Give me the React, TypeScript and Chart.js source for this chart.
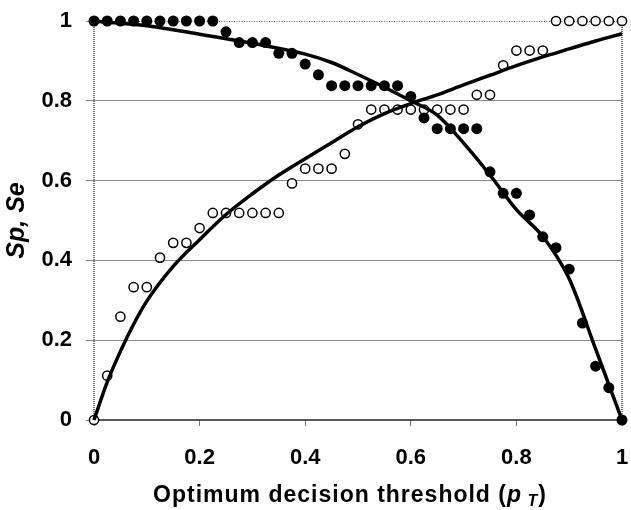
import { useEffect, useRef } from "react";
import { Chart, registerables } from "chart.js";
Chart.register(...registerables);

// Observed thresholds (x) for both point series
const pT = [0, 0.025, 0.05, 0.075, 0.1, 0.125, 0.15, 0.175, 0.2, 0.225, 0.25, 0.275, 0.3, 0.325, 0.35, 0.375, 0.4, 0.425, 0.45, 0.475, 0.5, 0.525, 0.55, 0.575, 0.6, 0.625, 0.65, 0.675, 0.7, 0.725, 0.75, 0.775, 0.8, 0.825, 0.85, 0.875, 0.9, 0.925, 0.95, 0.975, 1];

// Specificity (filled dots)
const spObserved = [1, 1, 1, 1, 1, 1, 1, 1, 1, 1, 0.973, 0.946, 0.946, 0.946, 0.919, 0.919, 0.892, 0.865, 0.838, 0.838, 0.838, 0.838, 0.838, 0.838, 0.811, 0.757, 0.73, 0.73, 0.73, 0.73, 0.622, 0.568, 0.568, 0.514, 0.459, 0.432, 0.378, 0.243, 0.135, 0.081, 0];

// Sensitivity (open circles)
const seObserved = [0, 0.111, 0.259, 0.333, 0.333, 0.407, 0.444, 0.444, 0.481, 0.519, 0.519, 0.519, 0.519, 0.519, 0.519, 0.593, 0.63, 0.63, 0.63, 0.667, 0.741, 0.778, 0.778, 0.778, 0.778, 0.778, 0.778, 0.778, 0.778, 0.815, 0.815, 0.889, 0.926, 0.926, 0.926, 1, 1, 1, 1, 1, 1];

// Fitted curves
const spCurveX = [0, 0.1, 0.2, 0.3, 0.4, 0.45, 0.5, 0.55, 0.6, 0.65, 0.7, 0.75, 0.8, 0.85, 0.9, 0.95, 1];
const spCurveY = [1, 0.988, 0.967, 0.944, 0.917, 0.896, 0.866, 0.834, 0.8, 0.764, 0.694, 0.614, 0.527, 0.46, 0.354, 0.178, 0];
const seCurveX = [0, 0.025, 0.05, 0.075, 0.1, 0.15, 0.2, 0.25, 0.3, 0.35, 0.4, 0.45, 0.5, 0.55, 0.6, 0.65, 0.7, 0.75, 0.8, 0.85, 0.9, 0.95, 1];
const seCurveY = [0, 0.095, 0.172, 0.24, 0.298, 0.385, 0.452, 0.515, 0.567, 0.614, 0.655, 0.695, 0.735, 0.768, 0.793, 0.815, 0.84, 0.864, 0.888, 0.91, 0.93, 0.95, 0.968];

const tickValues = [0, 0.2, 0.4, 0.6, 0.8, 1];
const xTickLabels = ["0", "0.2", "0.4", "0.6", "0.8", "1"];
const yTickLabels = ["0", "0.2", "0.4", "0.6", "0.8", "1"];

const FAMILY = '"Liberation Sans", Arial, Helvetica, sans-serif';

const framePlugin = {
  id: "frame",
  beforeDatasetsDraw(chart: any) {
    const { ctx, scales } = chart;
    const x = scales.x, y = scales.y;
    const x0 = x.getPixelForValue(0), x1 = x.getPixelForValue(1);
    const y0 = y.getPixelForValue(0), y1 = y.getPixelForValue(1);
    ctx.save();
    ctx.strokeStyle = "#666";
    ctx.lineWidth = 1;
    ctx.setLineDash([1, 1.5]);
    ctx.beginPath();
    ctx.moveTo(x0, y1 + 0.5);
    ctx.lineTo(x1, y1 + 0.5);
    ctx.stroke();
    ctx.strokeStyle = "#444";
    ctx.lineWidth = 1.5;
    ctx.setLineDash([1, 1]);
    ctx.beginPath();
    ctx.moveTo(x0, y1);
    ctx.lineTo(x0, y0);
    ctx.moveTo(x1, y1);
    ctx.lineTo(x1, y0);
    ctx.stroke();
    ctx.setLineDash([]);
    ctx.strokeStyle = "#222";
    ctx.lineWidth = 1.5;
    ctx.beginPath();
    ctx.moveTo(x0, y0);
    ctx.lineTo(x1, y0);
    ctx.stroke();
    ctx.restore();
  },
};

const xTitlePlugin = {
  id: "xTitle",
  afterDraw(chart: any) {
    const { ctx, chartArea } = chart;
    const parts: [string, string, number][] = [
      ["Optimum decision threshold (", `bold 23px ${FAMILY}`, 0],
      ["p", `italic bold 23px ${FAMILY}`, 0],
      [" T", `italic bold 16px ${FAMILY}`, 4],
      [")", `bold 23px ${FAMILY}`, 0],
    ];
    ctx.save();
    (ctx as any).letterSpacing = "1px";
    let total = 0;
    for (const [t, f] of parts) {
      ctx.font = f;
      total += ctx.measureText(t).width;
    }
    const cx = (chartArea.left + chartArea.right) / 2 - 8;
    let xx = cx - total / 2;
    const base = 502;
    ctx.fillStyle = "#000";
    ctx.textBaseline = "alphabetic";
    ctx.textAlign = "left";
    for (const [t, f, dy] of parts) {
      ctx.font = f;
      ctx.fillText(t, xx, base + dy);
      xx += ctx.measureText(t).width;
    }
    ctx.restore();
  },
};

export default function App() {
  const ref = useRef<HTMLCanvasElement>(null);
  useEffect(() => {
    const chart = new Chart(ref.current!, {
      type: "scatter",
      data: {
        datasets: [
          {
            type: "line",
            data: spCurveX.map((v, i) => ({ x: v, y: spCurveY[i] })),
            borderColor: "#000",
            borderWidth: 3.5,
            pointRadius: 0,
            cubicInterpolationMode: "monotone",
            fill: false,
            clip: false,
            order: 0,
          } as any,
          {
            type: "line",
            data: seCurveX.map((v, i) => ({ x: v, y: seCurveY[i] })),
            borderColor: "#000",
            borderWidth: 3.5,
            pointRadius: 0,
            cubicInterpolationMode: "monotone",
            fill: false,
            clip: false,
            order: 0,
          } as any,
          {
            data: pT.map((v, i) => ({ x: v, y: spObserved[i] })),
            pointRadius: 5.5,
            pointBackgroundColor: "#000",
            pointBorderColor: "#000",
            pointBorderWidth: 0,
            clip: false,
            order: 1,
          } as any,
          {
            data: pT.map((v, i) => ({ x: v, y: seObserved[i] })),
            pointRadius: 4.6,
            pointBackgroundColor: "#fff",
            pointBorderColor: "#000",
            pointBorderWidth: 1.5,
            clip: false,
            order: 1,
          } as any,
        ],
      },
      options: {
        responsive: false,
        animation: false,
        layout: { padding: { top: 21, right: 9, left: 0, bottom: 0 } },
        plugins: { legend: { display: false }, tooltip: { enabled: false } },
        scales: {
          x: {
            type: "linear",
            min: 0,
            max: 1,
            afterBuildTicks: (s: any) => {
              s.ticks = tickValues.map((v) => ({ value: v }));
            },
            afterFit: (s: any) => {
              s.height = 90;
              s.paddingLeft = 0;
              s.paddingRight = 0;
            },
            ticks: {
              callback: (_v: any, i: number) => xTickLabels[i],
              font: { family: FAMILY, size: 22, weight: "bold" },
              color: "#000",
              padding: 19,
              maxRotation: 0,
              autoSkip: false,
            },
            grid: { drawOnChartArea: false, drawTicks: true, tickLength: 6, color: "#777" },
            border: { display: false },
          },
          y: {
            min: 0,
            max: 1,
            afterBuildTicks: (s: any) => {
              s.ticks = tickValues.map((v) => ({ value: v }));
            },
            afterFit: (s: any) => {
              s.width = 94;
              s.paddingTop = 0;
              s.paddingBottom = 0;
            },
            ticks: {
              callback: (_v: any, i: number) => yTickLabels[i],
              font: { family: FAMILY, size: 22, weight: "bold" },
              color: "#000",
              padding: 14,
            },
            grid: {
              drawTicks: true,
              tickLength: 8,
              tickColor: "#888",
              color: (c: any) => {
                const v = c.tick ? c.tick.value : -1;
                return v === 0 || v === 1 ? "rgba(0,0,0,0)" : "#8c8c8c";
              },
              lineWidth: 1,
            },
            border: { display: false },
            title: {
              display: true,
              text: "Sp, Se",
              font: { family: FAMILY, size: 25, weight: "bold", style: "italic" },
              color: "#000",
              padding: { top: 2, bottom: 0 },
            },
          },
        },
      },
      plugins: [framePlugin, xTitlePlugin],
    } as any);
    return () => chart.destroy();
  }, []);
  return (
    <div style={{ position: "absolute", left: 0, top: 0, width: 631, height: 510, background: "#fff" }}>
      <canvas ref={ref} width={631} height={510} style={{ display: "block", width: 631, height: 510 }} />
    </div>
  );
}
